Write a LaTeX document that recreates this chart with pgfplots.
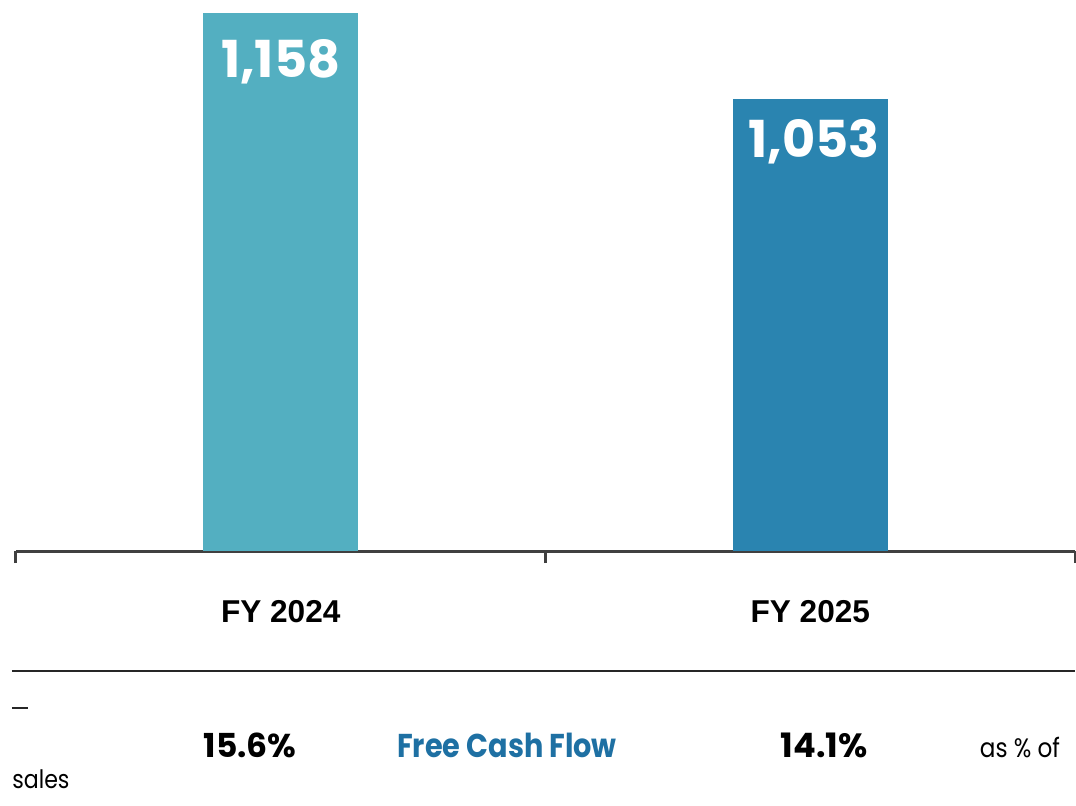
\documentclass[border=0pt]{standalone}
\usepackage{pgfplots}
\pgfplotsset{compat=1.18}
\usepackage{fontspec}
\setmainfont{Liberation Sans}
\newfontfamily\geo[FakeStretch=0.87]{Poppins}
\newfontfamily\geonum{Poppins}
\definecolor{barA}{HTML}{53AFC1}
\definecolor{barB}{HTML}{2A84B0}
\definecolor{fcf}{HTML}{1E70A3}
\definecolor{axisgray}{HTML}{404040}
\begin{document}
\begin{tikzpicture}
\begin{axis}[
    scale only axis,
    width=529.5pt,
    height=275.5pt,
    xmin=-0.5, xmax=1.5,
    ymin=500, ymax=1174,
    axis x line=bottom,
    axis y line=none,
    axis line style={axisgray, line width=1.5pt, -},
    xtick={-0.5,0.5,1.5},
    xticklabels={},
    tick align=outside,
    major tick length=6pt,
    tick style={axisgray, line width=1.5pt},
    ytick=\empty,
    clip=false,
]
\addplot[ybar, bar width=77.5pt, fill=barA, draw=none] coordinates {(0,1158)};
\addplot[ybar, bar width=77.5pt, fill=barB, draw=none] coordinates {(1,1053)};

% value labels inside the bars
\node[anchor=base, text=white, font=\geonum\bfseries\fontsize{25.5}{29}\selectfont, yshift=-32pt]
    at (axis cs:0,1158) {1,158};
\node[anchor=base, text=white, font=\geonum\bfseries\fontsize{25.5}{29}\selectfont, yshift=-29.5pt, xshift=2pt]
    at (axis cs:1,1053) {1,053};

% category labels
\node[anchor=base, font=\bfseries\fontsize{15.8}{18}\selectfont, yshift=-35.5pt]
    at (axis cs:0,500) {FY 2024};
\node[anchor=base, font=\bfseries\fontsize{15.8}{18}\selectfont, yshift=-35.5pt]
    at (axis cs:1,500) {FY 2025};

% separator
\draw[black!85, line width=1pt] ([yshift=-60pt]axis cs:-0.5076,500) -- ([yshift=-60pt]axis cs:1.5,500);
\draw[black!85, line width=1pt] ([yshift=-78.5pt]axis cs:-0.5076,500) -- ([yshift=-78.5pt]axis cs:-0.4774,500);

% bottom row
\node[anchor=base, font=\geonum\bfseries\fontsize{16.5}{20}\selectfont, yshift=-103pt]
    at (axis cs:-0.058,500) {15.6\%};
\node[anchor=base, text=fcf, font=\geo\bfseries\fontsize{16.5}{20}\selectfont, yshift=-103pt]
    at (axis cs:0.4273,500) {Free Cash Flow};
\node[anchor=base, font=\geonum\bfseries\fontsize{16.8}{20}\selectfont, yshift=-103pt]
    at (axis cs:1.026,500) {14.1\%};
\node[anchor=base, font=\geo\fontsize{13.3}{16}\selectfont, yshift=-103pt]
    at (axis cs:1.396,500) {as \% of};
\node[anchor=base west, inner sep=0pt, font=\geo\fontsize{12.7}{16}\selectfont, yshift=-118.5pt]
    at (axis cs:-0.5076,500) {sales};

\coordinate (bbSW) at (rel axis cs:-0.0151,-0.461);
\coordinate (bbNE) at (rel axis cs:1.0009,1);
\end{axis}
\pgfresetboundingbox
\path[use as bounding box] (bbSW) rectangle (bbNE);
\end{tikzpicture}
\end{document}
